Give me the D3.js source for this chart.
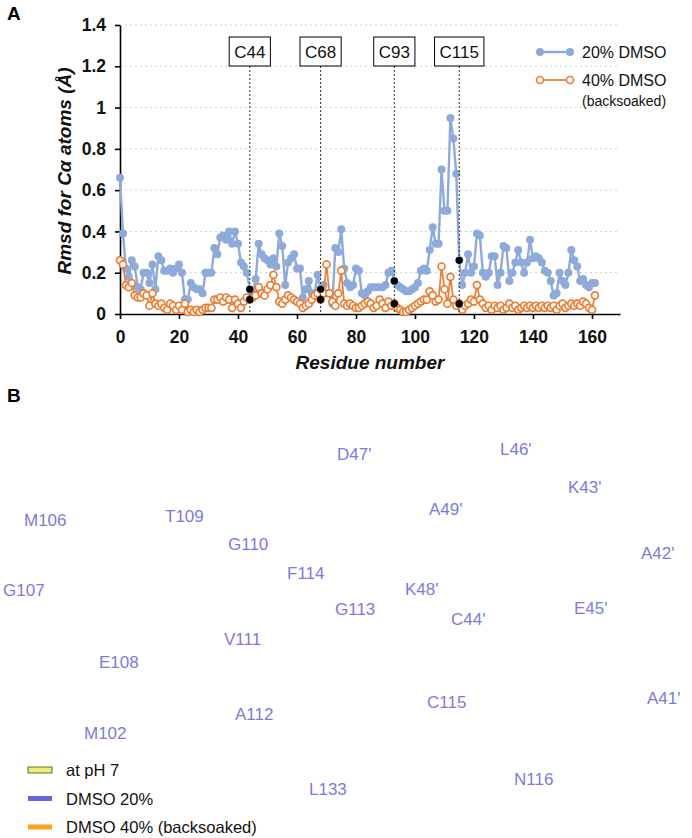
<!DOCTYPE html>
<meta charset="utf-8">
<style>
body { margin: 0; background: #fff; }
svg { font-family: "Liberation Sans", Arial, sans-serif; }
.axis path, .axis line { stroke: #000; stroke-width: 1.6; }
.axis text { font-weight: bold; font-size: 17.5px; fill: #111; }
.grid line { stroke: #d0d0d0; stroke-dasharray: 2,3; }
.title { font-weight: bold; font-style: italic; font-size: 19px; fill: #111; }
.struct-label { font-size: 17px; fill: #7b7bdf; }
</style>
<svg width="692" height="838"></svg>
<script src="https://cdn.jsdelivr.net/npm/d3@7"></script>
<script>
// rmsd per residue (0..161)
var dmso20 = [
  0.66,0.39,0.22,0.18,0.26,0.23,0.13,0.12,0.20,0.20,
  0.15,0.24,0.12,0.28,0.26,0.21,0.21,0.22,0.20,0.22,
  0.24,0.20,0.07,0.07,0.15,0.13,0.12,0.12,0.10,0.20,
  0.20,0.20,0.32,0.29,0.37,0.38,0.36,0.40,0.34,0.40,
  0.34,0.25,0.23,0.20,0.12,0.10,0.17,0.34,0.29,0.27,
  0.26,0.24,0.27,0.23,0.39,0.33,0.14,0.25,0.27,0.29,
  0.22,0.22,0.08,0.12,0.16,0.10,0.10,0.19,0.12,0.14,
  0.10,0.10,0.05,0.32,0.30,0.41,0.22,0.15,0.13,0.14,
  0.22,0.21,0.10,0.09,0.11,0.13,0.13,0.13,0.13,0.13,
  0.14,0.20,0.21,0.16,0.14,0.13,0.12,0.11,0.11,0.12,
  0.13,0.15,0.21,0.22,0.21,0.31,0.42,0.34,0.34,0.70,
  0.50,0.50,0.95,0.85,0.68,0.26,0.14,0.20,0.29,0.20,
  0.23,0.39,0.38,0.20,0.18,0.20,0.28,0.28,0.14,0.20,
  0.33,0.32,0.16,0.20,0.25,0.31,0.25,0.20,0.25,0.36,
  0.27,0.28,0.27,0.25,0.21,0.20,0.16,0.09,0.10,0.20,
  0.16,0.14,0.20,0.31,0.26,0.23,0.16,0.17,0.14,0.13,
  0.15,0.15
];
var dmso40 = [
  0.26,0.24,0.14,0.13,0.15,0.09,0.08,0.08,0.10,0.09,
  0.04,0.10,0.05,0.04,0.05,0.03,0.02,0.05,0.04,0.02,
  0.04,0.02,0.05,0.01,0.02,0.01,0.02,0.01,0.02,0.03,
  0.03,0.03,0.07,0.07,0.08,0.06,0.08,0.07,0.03,0.07,
  0.05,0.03,0.06,0.08,0.07,0.08,0.09,0.13,0.10,0.09,
  0.12,0.14,0.19,0.13,0.06,0.05,0.07,0.09,0.08,0.07,
  0.06,0.05,0.03,0.04,0.05,0.07,0.09,0.10,0.07,0.10,
  0.24,0.10,0.06,0.04,0.10,0.21,0.05,0.04,0.05,0.04,
  0.03,0.03,0.04,0.05,0.06,0.05,0.03,0.04,0.07,0.05,
  0.03,0.06,0.04,0.05,0.03,0.02,0.01,0.01,0.02,0.03,
  0.04,0.05,0.06,0.07,0.07,0.11,0.09,0.06,0.07,0.23,
  0.12,0.05,0.18,0.07,0.04,0.05,0.02,0.04,0.05,0.07,
  0.06,0.14,0.07,0.05,0.03,0.04,0.02,0.04,0.03,0.04,
  0.02,0.03,0.05,0.03,0.04,0.02,0.03,0.04,0.03,0.04,
  0.03,0.04,0.03,0.04,0.03,0.04,0.03,0.04,0.02,0.04,
  0.05,0.03,0.04,0.05,0.04,0.05,0.04,0.06,0.05,0.03,
  0.02,0.09
];
var cysteines = [44, 68, 93, 115];
var cysLabels = ["C44", "C68", "C93", "C115"];
var xTicks = [0, 20, 40, 60, 80, 100, 120, 140, 160];
var yTicks = [0, 0.2, 0.4, 0.6, 0.8, 1, 1.2, 1.4];
var seriesNames = ["20% DMSO", "40% DMSO"];

var structNames = ["M106","T109","G110","G107","F114","V111","E108","A112","M102","G113","L133",
                   "D47'","L46'","K43'","A49'","A42'","K48'","E45'","C44'","C115","A41'","N116"];
var structLegend = ["at pH 7", "DMSO 20%", "DMSO 40% (backsoaked)"];

var svg = d3.select("svg");
var blue = "#8eaadb", orange = "#ed7d31";

var x = d3.scaleLinear().domain([0, 169.5]).range([120, 620]),
    y = d3.scaleLinear().domain([0, 1.4]).range([314, 25]);

// panel letters
svg.append("text").attr("x", 7).attr("y", 20).style("font-weight", "bold").style("font-size", "19px").text("A");
svg.append("text").attr("x", 7).attr("y", 402).style("font-weight", "bold").style("font-size", "19px").text("B");

// grid
svg.append("g").attr("class", "grid")
  .selectAll("line").data(yTicks.slice(1)).enter().append("line")
    .attr("x1", x(0)).attr("x2", x(169.5))
    .attr("y1", function(d) { return y(d); }).attr("y2", function(d) { return y(d); });

svg.append("g").attr("class", "axis")
    .attr("transform", "translate(0," + y(0) + ")")
    .call(d3.axisBottom(x).tickValues(xTicks).tickSize(5).tickSizeOuter(0).tickPadding(9))
    .call(function(g) { g.selectAll("text").attr("dy", "0.85em"); });
svg.append("g").attr("class", "axis")
    .attr("transform", "translate(" + x(0) + ",0)")
    .call(d3.axisLeft(y).tickValues(yTicks).tickSize(5).tickSizeOuter(0).tickPadding(9)
      .tickFormat(function(d) { return d3.format("~g")(d); }));

svg.append("text").attr("class", "title").attr("text-anchor", "middle")
  .attr("x", 370).attr("y", 369).text("Residue number");
svg.append("text").attr("class", "title").attr("text-anchor", "middle")
  .attr("transform", "translate(71,171) rotate(-90)").text("Rmsd for Cα atoms (Å)");

var line = d3.line().x(function(d, i) { return x(i); }).y(function(d) { return y(d); });

svg.append("path").datum(dmso20).attr("d", line)
  .attr("fill", "none").attr("stroke", blue).attr("stroke-width", 2.4);
svg.append("g").selectAll("circle").data(dmso20).enter().append("circle")
  .attr("cx", function(d, i) { return x(i); }).attr("cy", function(d) { return y(d); })
  .attr("r", 4).attr("fill", blue);

svg.append("path").datum(dmso40).attr("d", line)
  .attr("fill", "none").attr("stroke", orange).attr("stroke-width", 1.7);
svg.append("g").selectAll("circle").data(dmso40).enter().append("circle")
  .attr("cx", function(d, i) { return x(i); }).attr("cy", function(d) { return y(d); })
  .attr("r", 3.5).attr("fill", "#fff").attr("stroke", orange).attr("stroke-width", 1.7);

// cysteine markers
var cys = svg.append("g").selectAll("g").data(cysteines).enter().append("g");
cys.append("line")
  .attr("x1", function(d) { return x(d); }).attr("x2", function(d) { return x(d); })
  .attr("y1", 66).attr("y2", y(0))
  .attr("stroke", "#333").attr("stroke-width", 1).attr("stroke-dasharray", "2,2");
cys.append("circle").attr("cx", function(d) { return x(d); }).attr("cy", function(d) { return y(dmso20[d]); })
  .attr("r", 3.6).attr("fill", "#000");
cys.append("circle").attr("cx", function(d) { return x(d); }).attr("cy", function(d) { return y(dmso40[d]); })
  .attr("r", 3.6).attr("fill", "#000");
cys.append("text").attr("class", "cys")
  .attr("x", function(d) { return x(d); }).attr("y", 58)
  .attr("text-anchor", "middle").style("font-size", "17px").attr("fill", "#111")
  .text(function(d, i) { return cysLabels[i]; });
cys.each(function() {
  var g = d3.select(this), b = g.select("text").node().getBBox();
  g.insert("rect", "text").attr("x", b.x - 5).attr("y", 37).attr("width", b.width + 10).attr("height", 29)
    .attr("fill", "#fff").attr("stroke", "#000").attr("stroke-width", 1);
});

// legend A
var lg = svg.append("g").attr("transform", "translate(540,0)");
[[52, blue], [80, orange]].forEach(function(row, i) {
  lg.append("line").attr("x1", 0).attr("x2", 30).attr("y1", row[0]).attr("y2", row[0])
    .attr("stroke", row[1]).attr("stroke-width", i ? 1.7 : 2.4);
  [0, 30].forEach(function(cx) {
    lg.append("circle").attr("cx", cx).attr("cy", row[0]).attr("r", i ? 3.5 : 4)
      .attr("fill", i ? "#fff" : blue).attr("stroke", i ? orange : "none").attr("stroke-width", 1.7);
  });
  lg.append("text").attr("x", 42).attr("y", row[0] + 6).style("font-size", "16px").attr("fill", "#111")
    .text(seriesNames[i]);
});
lg.append("text").attr("x", 42).attr("y", 106).style("font-size", "14px").attr("fill", "#111").text("(backsoaked)");

// panel B labels
var structPos = [[24,526],[165,522],[228,550],[3,596],[287,579],[224,645],[99,668],[235,720],[84,739],[335,615],[309,795],
                 [337,460],[500,455],[568,493],[429,515],[641,559],[405,595],[574,614],[451,625],[427,708],[647,704],[514,785]];
svg.append("g").selectAll("text").data(structNames).enter().append("text")
  .attr("class", "struct-label")
  .attr("x", function(d, i) { return structPos[i][0]; })
  .attr("y", function(d, i) { return structPos[i][1]; })
  .text(function(d) { return d; });

var legB = svg.append("g").attr("transform", "translate(28,0)");
var legBStyle = [["#eeee78", "#6f6f2a"], ["#6666d9", null], ["#f8a51c", null]];
structLegend.forEach(function(t, i) {
  var yy = 770 + i * 28.5;
  if (legBStyle[i][1]) {
    legB.append("rect").attr("x", 0).attr("y", yy - 3).attr("width", 24).attr("height", 6)
      .attr("fill", legBStyle[i][0]).attr("stroke", legBStyle[i][1]).attr("stroke-width", 1);
  } else {
    legB.append("rect").attr("x", 0).attr("y", yy - 2.5).attr("width", 24).attr("height", 5)
      .attr("fill", legBStyle[i][0]);
  }
  legB.append("text").attr("x", 38).attr("y", yy + 6).style("font-size", "16.5px").attr("fill", "#111").text(t);
});
</script>
